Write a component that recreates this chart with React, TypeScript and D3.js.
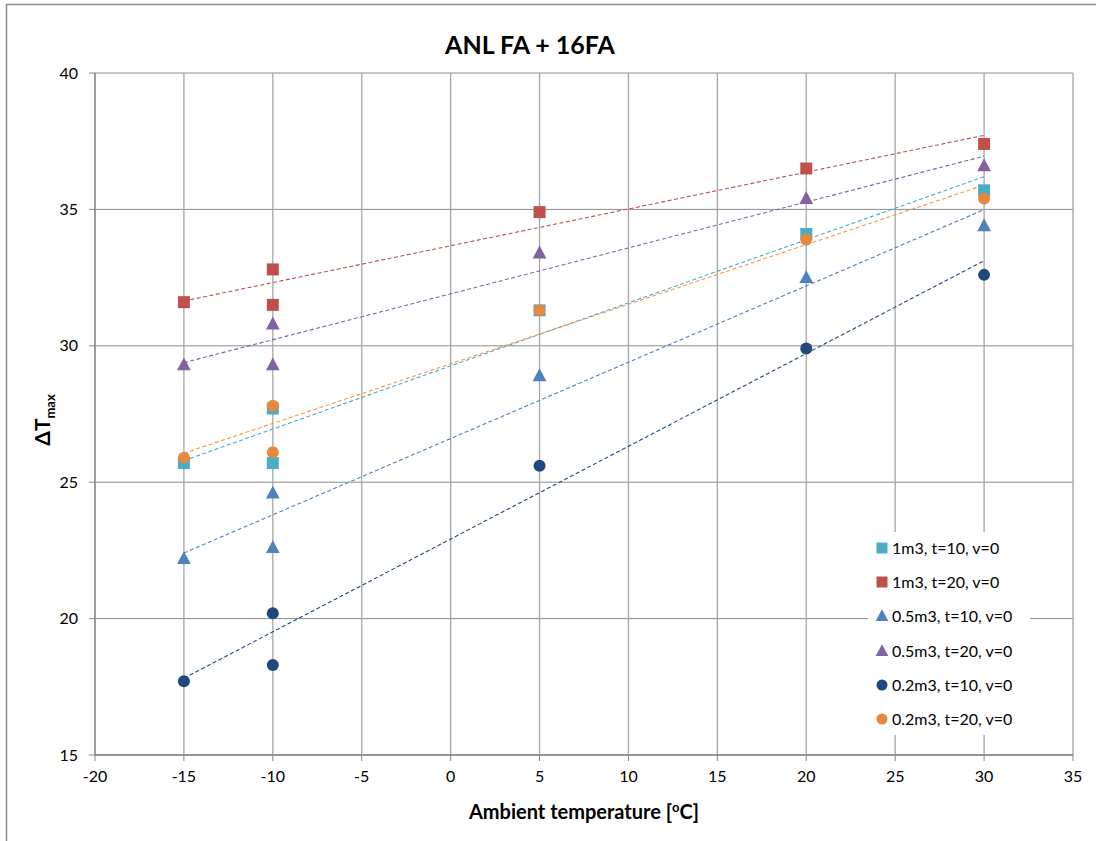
import React from "react";
import * as d3 from "d3";

const xTicks = [-20, -15, -10, -5, 0, 5, 10, 15, 20, 25, 30, 35];
const yTicks = [15, 20, 25, 30, 35, 40];

const temps = [-15, -10, -10, 5, 20, 30];
const s1m3t10 = [25.7, 27.7, 25.7, 31.3, 34.1, 35.7];
const s1m3t20 = [31.6, 32.8, 31.5, 34.9, 36.5, 37.4];
const s05m3t10 = [22.2, 24.6, 22.6, 28.9, 32.5, 34.4];
const s05m3t20 = [29.3, 30.8, 29.3, 33.4, 35.4, 36.6];
const s02m3t10 = [17.7, 20.2, 18.3, 25.6, 29.9, 32.6];
const s02m3t20 = [25.9, 27.8, 26.1, 31.3, 33.9, 35.4];

const seriesNames = [
  "1m3, t=10, v=0",
  "1m3, t=20, v=0",
  "0.5m3, t=10, v=0",
  "0.5m3, t=20, v=0",
  "0.2m3, t=10, v=0",
  "0.2m3, t=20, v=0",
];

const seriesDefs = [
  { name: seriesNames[0], values: s1m3t10, shape: "square", color: "#4BACC6", trend: "#4BACC6" },
  { name: seriesNames[1], values: s1m3t20, shape: "square", color: "#C0504D", trend: "#C0504D" },
  { name: seriesNames[2], values: s05m3t10, shape: "triangle", color: "#4F81BD", trend: "#4F81BD" },
  { name: seriesNames[3], values: s05m3t20, shape: "triangle", color: "#8064A2", trend: "#8064A2" },
  { name: seriesNames[4], values: s02m3t10, shape: "circle", color: "#1F497D", trend: "#1F497D" },
  { name: seriesNames[5], values: s02m3t20, shape: "circle", color: "#E4893D", trend: "#F79646" },
];

const FONT = "Lato, 'Liberation Sans', sans-serif";

function regress(xs: number[], ys: number[]) {
  const n = xs.length;
  const mx = d3.mean(xs)!;
  const my = d3.mean(ys)!;
  let num = 0, den = 0;
  for (let i = 0; i < n; i++) {
    num += (xs[i] - mx) * (ys[i] - my);
    den += (xs[i] - mx) * (xs[i] - mx);
  }
  const b = num / den;
  return { a: my - b * mx, b };
}

function Marker({ shape, cx, cy, color, size }: { shape: string; cx: number; cy: number; color: string; size: number }) {
  if (shape === "square") {
    return <rect x={cx - size / 2} y={cy - size / 2} width={size} height={size} fill={color} />;
  }
  if (shape === "triangle") {
    const h = size * 1.0;
    const w = size * 1.15;
    return (
      <polygon
        points={`${cx},${cy - h * 0.62} ${cx - w / 2},${cy + h * 0.45} ${cx + w / 2},${cy + h * 0.45}`}
        fill={color}
      />
    );
  }
  return <circle cx={cx} cy={cy} r={size / 2} fill={color} />;
}

export default function App() {
  const W = 1096, H = 841;
  const x = d3.scaleLinear().domain([-20, 35]).range([95, 1073]);
  const y = d3.scaleLinear().domain([15, 40]).range([755, 73]);

  const legendRows = [548, 582, 616, 651, 685, 719];

  return (
    <svg width={W} height={H} style={{ position: "absolute", left: 0, top: 0, background: "#fff" }} fontFamily={FONT}>
      <rect x={6.5} y={4.5} width={1200} height={900} fill="#fff" stroke="#8a8a8a" strokeWidth={1.5} />
      <text x={530} y={54} textAnchor="middle" fontSize={25} fontWeight="bold" fill="#000">ANL FA + 16FA</text>

      {/* gridlines */}
      {yTicks.map((t) => (
        <line key={"gy" + t} x1={x(-20)} x2={x(35)} y1={y(t)} y2={y(t)} stroke="#8c8c8c" strokeWidth={1} />
      ))}
      {xTicks.map((t) => (
        <line key={"gx" + t} x1={x(t)} x2={x(t)} y1={y(40)} y2={y(15)} stroke="#a6a6a6" strokeWidth={1.3} />
      ))}
      {/* axes */}
      <line x1={x(-20)} x2={x(-20)} y1={y(40)} y2={y(15)} stroke="#868686" strokeWidth={1.3} />
      <line x1={x(-20)} x2={x(35)} y1={y(15)} y2={y(15)} stroke="#868686" strokeWidth={1.3} />
      {yTicks.map((t) => (
        <g key={"ty" + t}>
          <line x1={x(-20) - 6} x2={x(-20)} y1={y(t)} y2={y(t)} stroke="#868686" />
          <text x={78} y={y(t)} dy="0.35em" textAnchor="end" fontSize={16} fill="#000">{t}</text>
        </g>
      ))}
      {xTicks.map((t) => (
        <g key={"tx" + t}>
          <line x1={x(t)} x2={x(t)} y1={y(15)} y2={y(15) + 6} stroke="#868686" />
          <text x={x(t)} y={y(15) + 27} textAnchor="middle" fontSize={16} fill="#000">{t}</text>
        </g>
      ))}

      <text x={584} y={819} textAnchor="middle" fontSize={20} fontWeight="bold" fill="#000">
        Ambient temperature [<tspan fontSize={13} dy={-7}>o</tspan><tspan dy={7}>C]</tspan>
      </text>
      <text transform={`translate(50,420) rotate(-90)`} textAnchor="middle" fontSize={21} fontWeight="bold" fill="#000">
        ΔT<tspan fontSize={13} dy={5}>max</tspan>
      </text>

      {/* trendlines */}
      {seriesDefs.map((s) => {
        const r = regress(temps, s.values);
        const x0 = d3.min(temps)!, x1 = d3.max(temps)!;
        return (
          <line
            key={"tr" + s.name}
            x1={x(x0)} y1={y(r.a + r.b * x0)} x2={x(x1)} y2={y(r.a + r.b * x1)}
            stroke={s.trend} strokeWidth={1.1} strokeDasharray="4,2.5"
          />
        );
      })}

      {/* points */}
      {seriesDefs.map((s) => (
        <g key={"pts" + s.name}>
          {s.values.map((v, i) => (
            <Marker key={i} shape={s.shape} cx={x(temps[i])} cy={y(v)} color={s.color} size={12} />
          ))}
        </g>
      ))}

      {/* legend */}
      <rect x={868} y={532} width={162} height={203} fill="#fff" />
      {seriesDefs.map((s, i) => (
        <g key={"lg" + s.name}>
          <Marker shape={s.shape} cx={882} cy={legendRows[i]} color={s.color} size={11} />
          <text x={892} y={legendRows[i]} dy="0.35em" fontSize={16} fill="#000">{s.name}</text>
        </g>
      ))}
    </svg>
  );
}
